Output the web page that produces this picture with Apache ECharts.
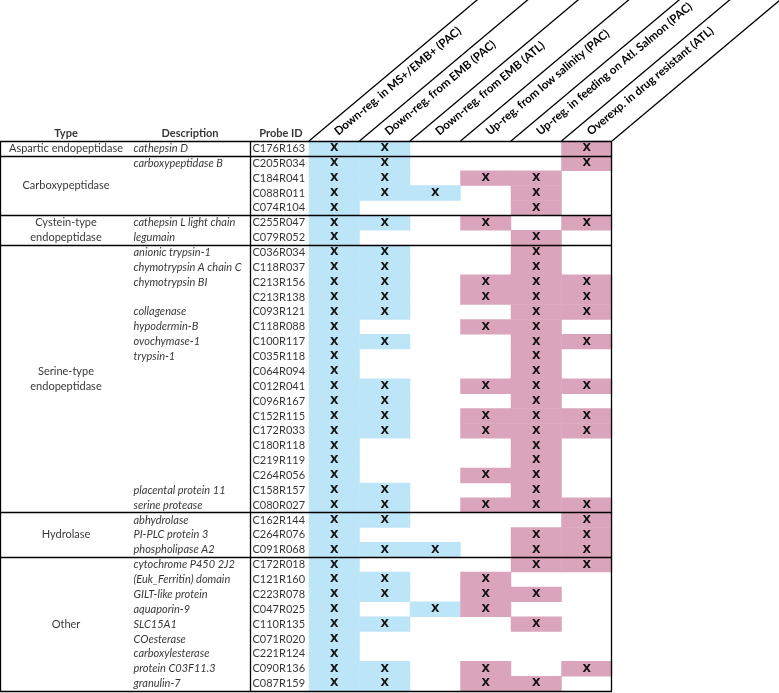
<!DOCTYPE html>
<html>
<head>
<meta charset="utf-8">
<script src="https://cdn.jsdelivr.net/npm/echarts@6/dist/echarts.min.js"></script>
<style>
html,body{margin:0;padding:0;background:#fff;}
#chart{width:779px;height:693px;}
</style>
</head>
<body>
<div id="chart"></div>
<script>
const conditions = [
  'Down-reg. in MS+/EMB+ (PAC)',
  'Down-reg. from EMB (PAC)',
  'Down-reg. from EMB (ATL)',
  'Up-reg. from low salinity (PAC)',
  'Up-reg. in feeding on Atl. Salmon (PAC)',
  'Overexp. in drug resistant (ATL)'
];
const typeNames = ['Aspartic endopeptidase', 'Carboxypeptidase', 'Cystein-type\nendopeptidase', 'Serine-type\nendopeptidase', 'Hydrolase', 'Other'];
const typeSizes = [1, 4, 2, 18, 3, 9];
const descriptions = [
  'cathepsin D', 'carboxypeptidase B', '', '', '',
  'cathepsin L light chain', 'legumain',
  'anionic trypsin-1', 'chymotrypsin A chain C', 'chymotrypsin BI', '', 'collagenase', 'hypodermin-B', 'ovochymase-1', 'trypsin-1',
  '', '', '', '', '', '', '', '', 'placental protein 11', 'serine protease',
  'abhydrolase', 'PI-PLC protein 3', 'phospholipase A2',
  'cytochrome P450 2J2', '(Euk_Ferritin) domain', 'GILT-like protein', 'aquaporin-9', 'SLC15A1', 'COesterase', 'carboxylesterase', 'protein C03F11.3', 'granulin-7'
];
const probes = [
  'C176R163', 'C205R034', 'C184R041', 'C088R011', 'C074R104', 'C255R047', 'C079R052',
  'C036R034', 'C118R037', 'C213R156', 'C213R138', 'C093R121', 'C118R088', 'C100R117', 'C035R118',
  'C064R094', 'C012R041', 'C096R167', 'C152R115', 'C172R033', 'C180R118', 'C219R119', 'C264R056',
  'C158R157', 'C080R027', 'C162R144', 'C264R076', 'C091R068', 'C172R018', 'C121R160', 'C223R078',
  'C047R025', 'C110R135', 'C071R020', 'C221R124', 'C090R136', 'C087R159'
];
// column numbers (1-based) marked with X for each probe
const marks = [
  [1,2,6],[1,2,6],[1,2,4,5],[1,2,3,5],[1,5],[1,2,4,6],[1,5],
  [1,2,5],[1,2,5],[1,2,4,5,6],[1,2,4,5,6],[1,2,5,6],[1,4,5],[1,2,5,6],[1,5],
  [1,5],[1,2,4,5,6],[1,2,5],[1,2,4,5,6],[1,2,4,5,6],[1,5],[1,5],[1,4,5],
  [1,2,5],[1,2,4,5,6],[1,2,6],[1,5,6],[1,2,3,5,6],[1,5,6],[1,2,4],[1,2,4,5],
  [1,3,4],[1,2,5],[1],[1],[1,2,4,6],[1,2,4,5]
];

const FONT = 'Lato';
const BLUE = '#bde5f8';
const PINK = '#dba4bd';
const nRows = probes.length;

// heatmap cells
const cellData = [];
marks.forEach((cols, r) => cols.forEach(c => cellData.push([c - 1, r, c <= 3 ? 1 : 2])));

// group boundaries
const bounds = [0];
typeSizes.forEach(s => bounds.push(bounds[bounds.length - 1] + s));

const typeData = typeNames.map((n, i) => ({ name: n, value: [66, (bounds[i] + bounds[i + 1]) / 2] }));
const descData = [];
descriptions.forEach((d, r) => { if (d) descData.push({ name: d, value: [133, r + 0.5] }); });
const probeData = probes.map((p, r) => ({ name: p, value: [252, r + 0.5] }));
const headData = [
  { name: 'Type', value: [66, -0.5] },
  { name: 'Description', value: [190, -0.5] },
  { name: 'Probe ID', value: [281, -0.5] }
];

const TABLE_W = 612;
const lineStyle = { color: '#000', width: 1.3, type: 'solid' };
const markLines = [];
bounds.forEach(b => markLines.push([{ coord: [0, b] }, { coord: [TABLE_W, b] }]));
[0.7, 250.5, 611.5].forEach(x => markLines.push([{ coord: [x, 0] }, { coord: [x, nRows] }]));

const ANG = 40 * Math.PI / 180;

const chart = echarts.init(document.getElementById('chart'), null, { renderer: 'canvas' });
chart.setOption({
  animation: false,
  backgroundColor: '#fff',
  textStyle: { fontFamily: FONT },
  grid: [
    { left: 309, top: 141, width: 303, height: 550 },
    { left: 0, top: 141, width: TABLE_W, height: 550 }
  ],
  xAxis: [
    { gridIndex: 0, type: 'category', data: conditions, position: 'top', show: false },
    { gridIndex: 1, type: 'value', min: 0, max: TABLE_W, show: false }
  ],
  yAxis: [
    { gridIndex: 0, type: 'category', data: probes, inverse: true, show: false },
    { gridIndex: 1, type: 'value', min: 0, max: nRows, inverse: true, show: false }
  ],
  visualMap: {
    show: false, type: 'piecewise', dimension: 2, seriesIndex: 0,
    pieces: [{ value: 1, color: BLUE }, { value: 2, color: PINK }]
  },
  series: [
    {
      type: 'heatmap', xAxisIndex: 0, yAxisIndex: 0, data: cellData,
      itemStyle: { borderWidth: 0 },
      label: { show: true, formatter: () => 'X', fontSize: 11, fontWeight: 'bold', color: '#111', fontFamily: 'DejaVu Sans' },
      emphasis: { disabled: true }, silent: true
    },
    {
      type: 'custom', xAxisIndex: 0, yAxisIndex: 0, clip: false, silent: true,
      data: conditions.map((c, i) => [i, 0]),
      renderItem: function (params, api) {
        const ctr = api.coord([api.value(0), api.value(1)]);
        const sz = api.size([1, 1]);
        const top = ctr[1] - sz[1] / 2;
        const left = ctr[0] - sz[0] / 2;
        const L = 270;
        const xs = [left];
        if (params.dataIndex === conditions.length - 1) xs.push(ctr[0] + sz[0] / 2);
        const children = xs.map(x => ({
          type: 'line',
          shape: { x1: x, y1: top, x2: x + L * Math.cos(ANG), y2: top - L * Math.sin(ANG) },
          style: { stroke: '#000', lineWidth: 1.3 }
        }));
        children.push({
          type: 'text',
          x: left + 27, y: top - 8, rotation: ANG,
          style: {
            text: conditions[params.dataIndex], x: 0, y: 0, align: 'left', verticalAlign: 'middle',
            font: 'bold 11.5px ' + FONT, fill: '#000'
          }
        });
        return { type: 'group', children: children };
      }
    },
    {
      type: 'scatter', xAxisIndex: 1, yAxisIndex: 1, data: typeData, symbolSize: 1, clip: false,
      itemStyle: { color: 'rgba(0,0,0,0)' }, silent: true,
      label: { show: true, position: 'inside', formatter: p => p.name, fontSize: 11, lineHeight: 15, color: '#000', fontFamily: FONT },
      markLine: { silent: true, symbol: ['none', 'none'], label: { show: false }, lineStyle: lineStyle, data: markLines }
    },
    {
      type: 'scatter', xAxisIndex: 1, yAxisIndex: 1, data: descData, symbolSize: 1, clip: false,
      itemStyle: { color: 'rgba(0,0,0,0)' }, silent: true,
      label: { show: true, position: 'right', distance: 0, formatter: p => p.name, fontSize: 11, fontStyle: 'italic', color: '#000', fontFamily: FONT }
    },
    {
      type: 'scatter', xAxisIndex: 1, yAxisIndex: 1, data: probeData, symbolSize: 1, clip: false,
      itemStyle: { color: 'rgba(0,0,0,0)' }, silent: true,
      label: { show: true, position: 'right', distance: 0, formatter: p => p.name, fontSize: 11, color: '#000', fontFamily: FONT }
    },
    {
      type: 'scatter', xAxisIndex: 1, yAxisIndex: 1, data: headData, symbolSize: 1, clip: false,
      itemStyle: { color: 'rgba(0,0,0,0)' }, silent: true,
      label: { show: true, position: 'inside', formatter: p => p.name, fontSize: 11, fontWeight: 'bold', color: '#000', fontFamily: FONT }
    }
  ]
});
</script>
</body>
</html>
